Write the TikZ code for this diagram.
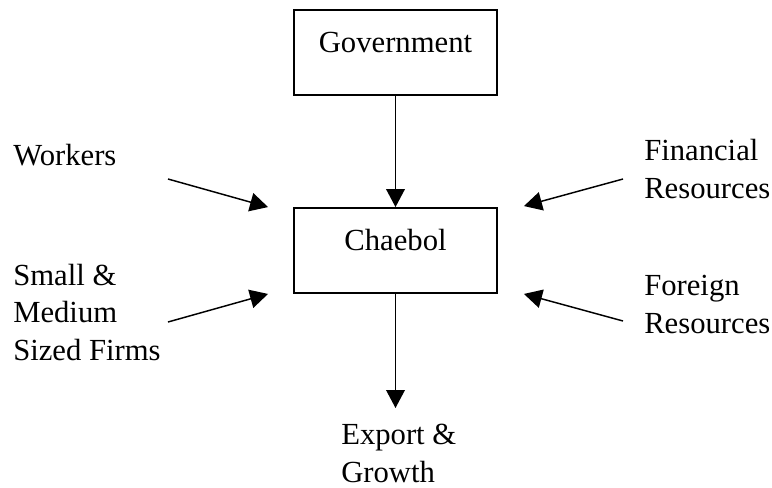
\documentclass[tikz,border=0pt]{standalone}
\usepackage{fontspec}
\setmainfont{Liberation Serif}
\usetikzlibrary{arrows.meta}
\begin{document}
\begin{tikzpicture}[x=0.75pt,y=-0.75pt,
  every node/.style={font=\fontsize{23pt}{28pt}\selectfont, inner sep=0pt},
  box/.style={draw, line width=1.4pt, minimum width=203*0.75pt,
              text height=42*0.75pt, text depth=43*0.75pt},
  label text/.style={anchor=base west, align=left},
  arr/.style={line width=1.1pt, -{Triangle[length=13.5pt,width=14pt]}}]
  \useasboundingbox (0,0) rectangle (772,487);

  % central boxes
  \node[box] (gov) at (395.5,52.5) {Government};
  \node[box] (chaebol) at (395.5,250.5) {Chaebol};

  % side labels (anchored at the baseline of their last line)
  \node[label text] (workers) at (13,165) {Workers};
  \node[label text] (smes) at (13,360) {Small \&\\Medium\\Sized Firms};
  \node[label text] (fin) at (644,198) {Financial\\Resources};
  \node[label text] (foreign) at (644,333) {Foreign\\Resources};
  \node[label text] (export) at (341,482) {Export \&\\Growth};

  % free tails of the slanted arrows
  \coordinate (wTail) at (168,179);
  \coordinate (sTail) at (168,322);
  \coordinate (fTail) at (623,179);
  \coordinate (rTail) at (623,321);

  % connectors
  \draw[arr] (gov.south) -- (chaebol.north);
  \draw[arr] (chaebol.south) -- ([yshift=12pt]chaebol.south |- export.north);
  \draw[arr] (wTail) -- ([xshift=-18.75pt]chaebol.north west);
  \draw[arr] (sTail) -- ([xshift=-18.75pt]chaebol.south west);
  \draw[arr] (fTail) -- ([xshift=19.5pt,yshift=0.75pt]chaebol.north east);
  \draw[arr] (rTail) -- ([xshift=19.5pt]chaebol.south east);
\end{tikzpicture}
\end{document}
